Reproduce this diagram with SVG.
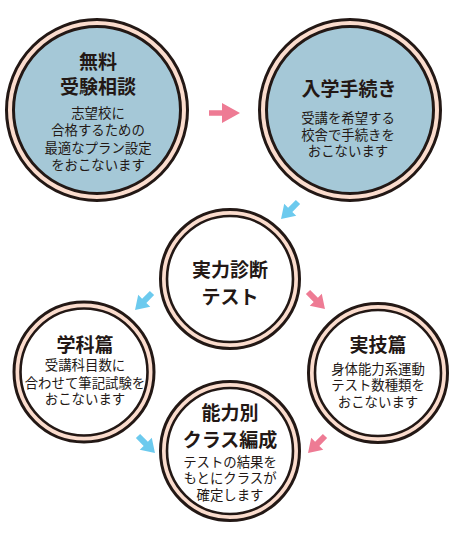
<svg xmlns="http://www.w3.org/2000/svg" xmlns:xlink="http://www.w3.org/1999/xlink" width="455" height="538" viewBox="0 0 455 538">
<style>
.ring{fill:#fbdccd;stroke:#231815;stroke-width:3}
.inB{fill:#a5c8d7;stroke:#231815;stroke-width:3}
.inW{fill:#ffffff;stroke:#231815;stroke-width:2.6}
text{font-family:"Noto Sans CJK JP","Noto Sans",sans-serif;fill:#231815;text-anchor:middle}
.t{font-size:19px;font-weight:bold}
.b{font-size:13.4px}
.pink{fill:#ee7b94}
.blue{fill:#6ccaee}
</style>
<defs>
<path id="aL" d="M0,-2.8 H13 V-10 L31,0 L13,10 V2.8 H0 Z"/>
<path id="aS" d="M0,-3 H11 V-8.5 L24,0 L11,8.5 V3 H0 Z"/>
</defs>
<rect width="455" height="538" fill="#ffffff"/>
<g id="connectors">
<use xlink:href="#aL" class="pink" transform="translate(209,113)"/>
<use xlink:href="#aS" class="blue" transform="translate(298,202) rotate(135)"/>
<use xlink:href="#aS" class="blue" transform="translate(152,293) rotate(135)"/>
<use xlink:href="#aS" class="pink" transform="translate(308,292) rotate(45)"/>
<use xlink:href="#aS" class="blue" transform="translate(138,436) rotate(45)"/>
<use xlink:href="#aS" class="pink" transform="translate(325,436) rotate(135)"/>
</g>
<g id="node1">
<circle class="ring" cx="97" cy="110" r="90.5"/>
<circle class="inB" cx="97" cy="110" r="83.5"/>
<text class="t" x="98" y="69">無料</text>
<text class="t" x="98" y="94">受験相談</text>
<text class="b" x="98" y="118">志望校に</text>
<text class="b" x="98" y="135">合格するための</text>
<text class="b" x="98" y="153">最適なプラン設定</text>
<text class="b" x="98" y="170">をおこないます</text>
</g>
<g id="node2">
<circle class="ring" cx="350" cy="110" r="90.5"/>
<circle class="inB" cx="350" cy="110" r="83.5"/>
<text class="t" x="349" y="96">入学手続き</text>
<text class="b" x="348" y="123">受講を希望する</text>
<text class="b" x="348" y="140">校舎で手続きを</text>
<text class="b" x="348" y="156">おこないます</text>
</g>
<g id="node3">
<circle class="ring" cx="230" cy="279" r="69.5"/>
<circle class="inW" cx="230" cy="279" r="63"/>
<text class="t" x="230" y="277">実力診断</text>
<text class="t" x="230" y="304">テスト</text>
</g>
<g id="node4">
<circle class="ring" cx="84" cy="372" r="70"/>
<circle class="inW" cx="84" cy="372" r="63.5"/>
<text class="t" x="85" y="352">学科篇</text>
<text class="b" x="85" y="370">受講科目数に</text>
<text class="b" x="85" y="388">合わせて筆記試験を</text>
<text class="b" x="85" y="404">おこないます</text>
</g>
<g id="node5">
<circle class="ring" cx="378" cy="373" r="69.5"/>
<circle class="inW" cx="378" cy="373" r="63"/>
<text class="t" x="378" y="352">実技篇</text>
<text class="b" x="378" y="374">身体能力系運動</text>
<text class="b" x="378" y="390">テスト数種類を</text>
<text class="b" x="378" y="407">おこないます</text>
</g>
<g id="node6">
<circle class="ring" cx="230" cy="451" r="69.5"/>
<circle class="inW" cx="230" cy="451" r="63"/>
<text class="t" x="230" y="420">能力別</text>
<text class="t" x="230" y="447">クラス編成</text>
<text class="b" x="230" y="467">テストの結果を</text>
<text class="b" x="230" y="483">もとにクラスが</text>
<text class="b" x="230" y="500">確定します</text>
</g>
</svg>
